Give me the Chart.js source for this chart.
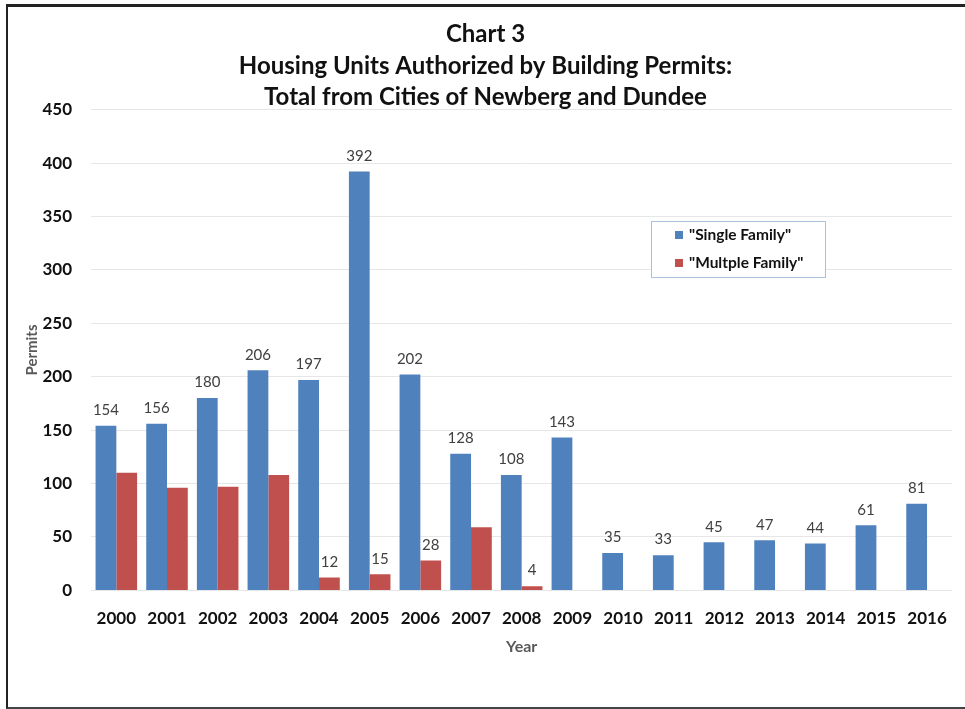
<!DOCTYPE html>
<html>
<head>
<meta charset="utf-8">
<script src="https://cdn.jsdelivr.net/npm/chart.js@4.4.1/dist/chart.umd.min.js"></script>
<style>
  html, body { margin: 0; padding: 0; background: #fff; }
  .wrap { position: relative; width: 965px; height: 709px; }
  .frame {
    position: absolute; left: 6px; top: 4px; width: 970px; height: 700px;
    border-top: 3px solid #222; border-left: 2px solid #222; border-bottom: 2px solid #444;
    pointer-events: none;
  }
</style>
</head>
<body>
<div class="wrap">
  <canvas id="chart" width="965" height="709"></canvas>
  <div class="frame"></div>
</div>
<script>
const years = ["2000", "2001", "2002", "2003", "2004", "2005", "2006", "2007", "2008",
  "2009", "2010", "2011", "2012", "2013", "2014", "2015", "2016"];
const singleFamily = [154, 156, 180, 206, 197, 392, 202, 128, 108, 143, 35, 33, 45, 47, 44, 61, 81];
const multipleFamily = [110, 96, 97, 108, 12, 15, 28, 59, 4, null, null, null, null, null, null, null, null];
// only these red bars carry a value label in the original
const multipleLabelled = [4, 5, 6, 8];
const yTicks = [0, 50, 100, 150, 200, 250, 300, 350, 400, 450];

const FONT = "Lato, 'Open Sans', sans-serif";

const valueLabels = {
  id: "valueLabels",
  afterDatasetsDraw(chart) {
    const ctx = chart.ctx;
    ctx.save();
    ctx.font = `15px ${FONT}`;
    ctx.fillStyle = "#404040";
    ctx.textAlign = "center";
    ctx.textBaseline = "bottom";
    chart.data.datasets.forEach((ds, di) => {
      const meta = chart.getDatasetMeta(di);
      meta.data.forEach((bar, i) => {
        const v = ds.data[i];
        if (v == null) return;
        if (di === 1 && !multipleLabelled.includes(i)) return;
        ctx.fillText(String(v), bar.x, bar.y - 8);
      });
    });
    ctx.restore();
  },
};

const boxLegend = {
  id: "boxLegend",
  afterDraw(chart) {
    const ctx = chart.ctx;
    const x = 651, y = 221, w = 174, h = 56;
    ctx.save();
    ctx.fillStyle = "#fff";
    ctx.fillRect(x, y, w, h);
    ctx.strokeStyle = "#a9c0e0";
    ctx.lineWidth = 1;
    ctx.strokeRect(x + 0.5, y + 0.5, w, h);
    ctx.font = `bold 15.5px ${FONT}`;
    ctx.textBaseline = "middle";
    ctx.textAlign = "left";
    chart.data.datasets.forEach((ds, i) => {
      const cy = y + 14 + i * 28;
      ctx.fillStyle = ds.backgroundColor;
      ctx.fillRect(x + 24, cy - 4, 8, 8);
      ctx.fillStyle = "#111";
      ctx.fillText(ds.label, x + 38, cy);
    });
    ctx.restore();
  },
};

new Chart(document.getElementById("chart"), {
  type: "bar",
  data: {
    labels: years,
    datasets: [
      {
        label: '"Single Family"',
        data: singleFamily,
        backgroundColor: "#4f81bd",
        borderWidth: 0,
        categoryPercentage: 0.82,
        barPercentage: 1.0,
      },
      {
        label: '"Multple Family"',
        data: multipleFamily,
        backgroundColor: "#c0504d",
        borderWidth: 0,
        categoryPercentage: 0.82,
        barPercentage: 1.0,
      },
    ],
  },
  options: {
    responsive: false,
    animation: false,
    layout: { padding: { left: 14, right: 8, top: 0, bottom: 49 } },
    scales: {
      x: {
        grid: { display: false, drawTicks: false },
        border: { display: false },
        ticks: {
          color: "#111",
          font: { family: FONT, size: 17, weight: "bold" },
          padding: 18,
          maxRotation: 0,
          autoSkip: false,
        },
        title: {
          display: true,
          text: "Year",
          color: "#595959",
          font: { family: FONT, size: 16, weight: "bold" },
          padding: { top: -10 },
        },
      },
      y: {
        min: 0,
        max: 450,
        afterBuildTicks: (axis) => {
          axis.ticks = yTicks.map((v) => ({ value: v }));
        },
        afterFit: (axis) => {
          axis.width = 77;
        },
        grid: { color: "#e6e6e6", drawTicks: false },
        border: { display: false },
        ticks: {
          color: "#111",
          font: { family: FONT, size: 17, weight: "bold" },
          padding: 19,
        },
        title: {
          display: true,
          text: "Permits",
          color: "#595959",
          font: { family: FONT, size: 15, weight: "bold" },
          padding: { top: 9, bottom: 0 },
        },
      },
    },
    plugins: {
      legend: { display: false },
      tooltip: { enabled: false },
      title: {
        display: true,
        text: ["Chart 3", "Housing Units Authorized by Building Permits:", "Total from Cities of Newberg and Dundee"],
        color: "#111",
        font: { family: FONT, size: 24, weight: "bold", lineHeight: 1.3 },
        padding: { top: 19, bottom: -3 },
      },
    },
  },
  plugins: [valueLabels, boxLegend],
});
</script>
</body>
</html>
